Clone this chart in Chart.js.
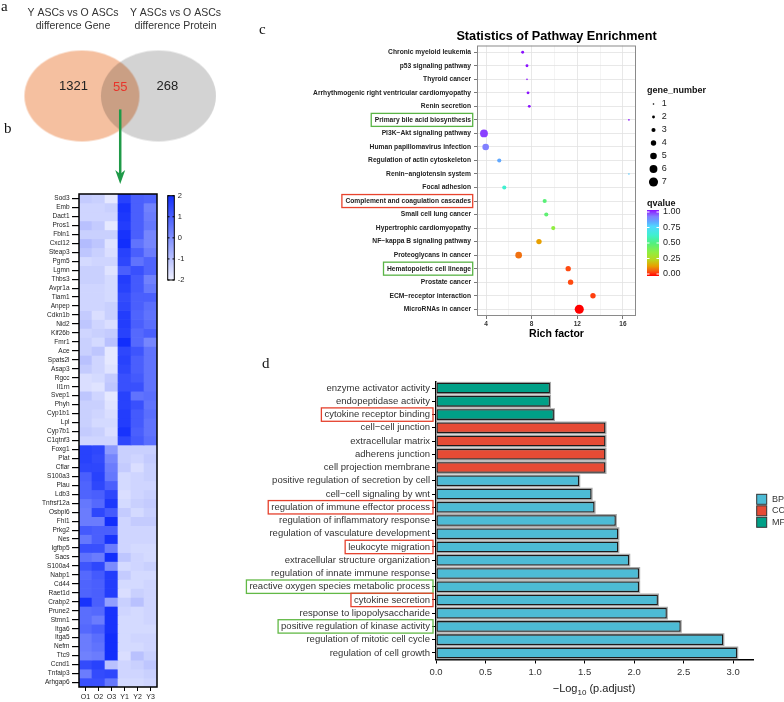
<!DOCTYPE html>
<html><head><meta charset="utf-8">
<script src="https://cdn.jsdelivr.net/npm/chart.js@4.4.1/dist/chart.umd.min.js"></script>
<style>
html,body{margin:0;padding:0;background:#fff;}
body{width:784px;height:702px;position:relative;overflow:hidden;}
canvas{position:absolute;display:block;}
.pl{position:absolute;font-family:"Liberation Serif","Times New Roman",serif;font-size:15px;line-height:15px;color:#111;}
</style></head><body>
<canvas id="venn" width="262" height="192" style="left:0;top:0"></canvas>
<canvas id="heat" width="200" height="517" style="left:0;top:185px"></canvas>
<canvas id="kegg" width="522" height="345" style="left:262px;top:0"></canvas>
<canvas id="go" width="544" height="332" style="left:240px;top:370px"></canvas>
<div class="pl" style="left:1px;top:-1.5px">a</div>
<div class="pl" style="left:4px;top:121px">b</div>
<div class="pl" style="left:259px;top:21.5px">c</div>
<div class="pl" style="left:262px;top:356px">d</div>
<script>
// ---------------- DATA ----------------
const vennTitles = [["Y ASCs vs O ASCs", "difference Gene"], ["Y ASCs vs O ASCs", "difference Protein"]];
const vennCounts = [1321, 55, 268]; // gene only, overlap, protein only

const heatSamples = ["O1","O2","O3","Y1","Y2","Y3"];
const heatGenes = ["Sod3","Emb","Dact1","Pros1","Fbln1","Cxcl12","Steap3","Pgm5","Lgmn","Thbs3","Avpr1a","Tiam1","Anpep","Cdkn1b","Nid2","Kif26b","Fmr1","Ace","Spats2l","Asap3","Rgcc","Il1rn","Svep1","Phyh","Cyp1b1","Lpl","Cyp7b1","C1qtnf3",
 "Foxg1","Plat","Cflar","S100a3","Plau","Ldb3","Tnfrsf12a","Osbpl6","Fhl1","Prkg2","Nes","Igfbp5","Sacs","S100a4","Nabp1","Cd44","Raet1d","Crabp2","Prune2","Stmn1","Itga6","Itga5","Nefm","Ttc9","Ccnd1","Tnfaip3","Arhgap6"];
const heatValues = [
 [-1.2,-1.3,-1.8,1.6,1.0,0.9],[-1.4,-1.4,-1.3,1.9,1.0,0.3],[-1.4,-1.4,-1.4,1.8,1.0,0.4],[-1.0,-1.2,-1.8,1.7,1.0,0.5],
 [-1.3,-1.3,-1.3,1.9,1.0,0.2],[-0.9,-1.1,-1.7,2.0,0.6,0.2],[-1.1,-1.3,-1.6,1.6,1.0,0.4],[-1.5,-1.4,-1.4,1.5,0.6,0.9],
 [-1.3,-1.3,-1.7,1.0,1.3,0.9],[-1.3,-1.3,-1.5,1.7,1.1,0.3],[-1.4,-1.4,-1.5,1.6,1.1,0.5],[-1.4,-1.4,-1.5,1.4,1.0,1.0],
 [-1.4,-1.4,-1.3,1.5,1.0,0.7],[-1.2,-1.6,-1.3,1.7,0.9,0.6],[-1.1,-1.4,-1.6,1.7,1.0,0.7],[-1.4,-1.3,-1.2,1.6,0.8,1.0],
 [-1.3,-1.5,-1.0,2.1,0.8,0.2],[-1.3,-1.1,-1.8,1.5,1.2,0.6],[-1.0,-1.4,-1.8,1.6,1.0,0.6],[-1.2,-1.4,-1.7,1.5,1.0,0.6],
 [-1.6,-1.5,-1.2,1.3,1.1,0.6],[-1.6,-1.7,-1.1,1.3,1.3,0.6],[-1.1,-1.4,-1.8,1.6,0.6,0.7],[-1.3,-1.3,-1.7,1.6,1.3,0.6],
 [-1.3,-1.4,-1.6,1.7,1.1,0.7],[-1.3,-1.5,-1.5,1.7,1.1,0.6],[-1.2,-1.3,-1.6,1.9,1.0,0.6],[-1.4,-1.4,-1.4,1.5,1.1,0.7],
 [1.6,1.5,-0.2,-1.3,-1.3,-1.3],[1.6,1.4,0.2,-1.3,-1.4,-1.2],[1.5,1.5,0.4,-1.2,-1.6,-1.3],[1.0,1.6,0.5,-1.5,-1.4,-1.3],
 [0.9,1.5,1.0,-1.5,-1.4,-1.4],[0.9,1.0,1.5,-1.6,-1.4,-1.3],[0.5,0.8,1.8,-1.5,-1.3,-1.2],[0.4,1.5,1.1,-1.2,-1.5,-1.3],
 [0.4,0.4,2.0,-1.4,-1.2,-1.2],[1.1,1.0,1.0,-1.4,-1.4,-1.4],[0.5,1.0,1.9,-1.4,-1.4,-1.4],[1.3,1.3,0.4,-1.4,-1.5,-1.5],
 [0.6,0.4,2.0,-1.1,-1.4,-1.5],[1.2,1.5,0.1,-1.5,-1.4,-1.3],[0.8,1.1,1.7,-1.2,-1.5,-1.5],[0.9,1.0,1.7,-1.5,-1.5,-1.4],
 [0.9,1.0,1.7,-1.6,-1.3,-1.4],[1.9,1.0,-0.3,-1.3,-1.0,-1.4],[0.7,0.8,1.9,-1.4,-1.5,-1.4],[0.7,0.4,1.9,-1.5,-1.5,-1.4],
 [0.8,1.0,1.9,-1.5,-1.5,-1.5],[0.4,0.7,2.1,-1.5,-1.4,-1.4],[0.4,0.6,2.0,-1.5,-1.5,-1.4],[0.3,0.4,2.1,-1.6,-1.0,-1.3],
 [1.4,1.6,-1.0,-1.4,-1.3,-1.1],[0.4,1.4,1.5,-1.4,-1.4,-1.3],[1.3,1.3,0.5,-1.5,-1.5,-1.4]
];
const heatLegendTicks = [2, 1, 0, -1, -2];

const keggTitle = "Statistics of Pathway Enrichment";
const keggXTitle = "Rich factor";
const keggPathways = ["Chronic myeloid leukemia","p53 signaling pathway","Thyroid cancer","Arrhythmogenic right ventricular cardiomyopathy","Renin secretion","Primary bile acid biosynthesis","PI3K\u2212Akt signaling pathway","Human papillomavirus infection","Regulation of actin cytoskeleton","Renin\u2212angiotensin system","Focal adhesion","Complement and coagulation cascades","Small cell lung cancer","Hypertrophic cardiomyopathy","NF\u2212kappa B signaling pathway","Proteoglycans in cancer","Hematopoietic cell lineage","Prostate cancer","ECM\u2212receptor interaction","MicroRNAs in cancer"];
const keggRichFactor = [7.21,7.59,7.59,7.68,7.79,16.52,3.82,3.97,5.16,16.52,5.60,9.14,9.28,9.89,8.64,6.86,11.20,11.41,13.37,12.17];
const keggGeneNumber = [2,2,1,2,2,1,6,5,3,1,3,3,3,3,4,5,4,4,4,7];
const keggQvalue = [1.0,1.0,1.0,1.0,1.0,1.0,0.96,0.90,0.82,0.77,0.62,0.48,0.47,0.36,0.15,0.10,0.06,0.06,0.05,0.0];
const keggXTicks = [4, 8, 12, 16];
const keggSizeLegend = [1,2,3,4,5,6,7];
const keggQLegend = [1.00, 0.75, 0.50, 0.25, 0.00];
const keggRedBox = ["Complement and coagulation cascades"];
const keggGreenBox = ["Primary bile acid biosynthesis","Hematopoietic cell lineage"];

const goTerms = ["enzyme activator activity","endopeptidase activity","cytokine receptor binding","cell\u2212cell junction","extracellular matrix","adherens junction","cell projection membrane","positive regulation of secretion by cell","cell\u2212cell signaling by wnt","regulation of immune effector process","regulation of inflammatory response","regulation of vasculature development","leukocyte migration","extracellular structure organization","regulation of innate immune response","reactive oxygen species metabolic process","cytokine secretion","response to lipopolysaccharide","positive regulation of kinase activity","regulation of mitotic cell cycle","regulation of cell growth"];
const goLog10Padj = [1.15,1.15,1.19,1.71,1.71,1.71,1.71,1.445,1.57,1.60,1.815,1.84,1.84,1.95,2.05,2.05,2.24,2.33,2.47,2.90,3.04];
const goCategory = ["MF","MF","MF","CC","CC","CC","CC","BP","BP","BP","BP","BP","BP","BP","BP","BP","BP","BP","BP","BP","BP"];
const goClasses = ["BP","CC","MF"];
const goRedBox = ["cytokine receptor binding","regulation of immune effector process","leukocyte migration","cytokine secretion"];
const goGreenBox = ["reactive oxygen species metabolic process","positive regulation of kinase activity"];

// ---------------- STYLE HELPERS ----------------
const FONT = '"Liberation Sans", Arial, Helvetica, sans-serif';
Chart.defaults.font.family = FONT;
Chart.defaults.animation = false;

function heatColor(v){
  const t = Math.max(0, Math.min(1, (v + 2) / 4));
  return `rgb(${Math.round(240 - 222*t)},${Math.round(242 - 196*t)},${Math.round(255 - 3*t)})`;
}
const qStops = [[0,[255,0,0]],[0.06,[255,74,16]],[0.1,[240,112,16]],[0.15,[232,160,0]],[0.25,[184,216,32]],[0.36,[144,238,64]],[0.5,[80,240,128]],[0.62,[64,240,208]],[0.75,[80,216,255]],[0.82,[96,168,255]],[0.9,[128,128,255]],[0.96,[138,64,255]],[1,[138,16,255]]];
function qColor(q){
  for (let k = 1; k < qStops.length; k++){
    if (q <= qStops[k][0]){
      const [q0,c0] = qStops[k-1], [q1,c1] = qStops[k];
      const f = (q - q0) / (q1 - q0);
      return `rgb(${c0.map((c,j)=>Math.round(c + (c1[j]-c)*f)).join(',')})`;
    }
  }
  return 'rgb(138,16,255)';
}
function bubbleR(n){ return 0.2 + 0.62 * n; }
const goColors = {BP:'#4DBBD5', CC:'#E64B35', MF:'#00A087'};

// ---------------- VENN ----------------
function ellipseImg(w, h, fill){
  const c = document.createElement('canvas'); c.width = w + 2; c.height = h + 2;
  const x = c.getContext('2d');
  x.beginPath(); x.ellipse(c.width/2, c.height/2, w/2, h/2, 0, 0, Math.PI*2);
  x.fillStyle = fill; x.fill();
  return c;
}
const vennImgs = [ellipseImg(115, 91, 'rgb(245,192,160)'), ellipseImg(115, 91, 'rgb(211,211,211)')];
const vennDecor = {
  id:'vennDecor',
  beforeDatasetsDraw(chart){ chart.ctx.save(); chart.ctx.globalCompositeOperation = 'multiply'; },
  afterDatasetsDraw(chart){
    const ctx = chart.ctx; ctx.restore();
    const pts = chart.getDatasetMeta(0).data;
    const p0 = pts[0], p1 = pts[1];
    ctx.save();
    ctx.textAlign = 'center'; ctx.textBaseline = 'middle';
    ctx.font = '10.5px ' + FONT; ctx.fillStyle = '#333';
    const tx = [p0.x - 9, p1.x + 17];
    vennTitles.forEach((t, i) => { ctx.fillText(t[0], tx[i], p0.y - 83.3); ctx.fillText(t[1], tx[i], p0.y - 70); });
    ctx.font = '13px ' + FONT;
    ctx.fillStyle = '#222'; ctx.fillText(String(vennCounts[0]), p0.x - 8.5, p0.y - 10);
    ctx.fillStyle = '#e8352b'; ctx.fillText(String(vennCounts[1]), (p0.x + p1.x)/2, p0.y - 8.3);
    ctx.fillStyle = '#222'; ctx.fillText(String(vennCounts[2]), p1.x + 9, p0.y - 10);
    // arrow
    const mx = (p0.x + p1.x)/2;
    ctx.strokeStyle = '#1f9a48'; ctx.fillStyle = '#1f9a48'; ctx.lineWidth = 2.5;
    ctx.beginPath(); ctx.moveTo(mx, p0.y + 13.4); ctx.lineTo(mx, 176); ctx.stroke();
    ctx.beginPath(); ctx.moveTo(mx - 5, 170); ctx.lineTo(mx, 184); ctx.lineTo(mx + 5, 170); ctx.lineTo(mx, 174); ctx.closePath(); ctx.fill();
    ctx.restore();
  }
};
new Chart(document.getElementById('venn'), {
  type:'scatter',
  data:{datasets:[{data: vennTitles.map((t,i)=>({x:i, y:0})), pointStyle: vennImgs, pointRadius:10, clip:false}]},
  options:{responsive:false, events:[], layout:{padding:{top:0,bottom:5.4,left:0,right:0}},
    plugins:{legend:{display:false}, tooltip:{enabled:false}},
    scales:{x:{display:false, min:-0.928, max:2.210}, y:{display:false, min:-1, max:1}}},
  plugins:[vennDecor]
});

// ---------------- HEATMAP ----------------
const heatDecor = {
  id:'heatDecor',
  afterDraw(chart){
    const {ctx, chartArea:a} = chart;
    ctx.save();
    ctx.strokeStyle = '#000'; ctx.lineWidth = 1.5; ctx.strokeRect(a.left, a.top, a.width, a.height);
    const bx = a.right + 10.7, bw = 6.6, by = a.top + 1.7, bh = 84.3;
    const g = ctx.createLinearGradient(0, by, 0, by + bh);
    for (let k = 0; k <= 20; k++){ g.addColorStop(k/20, heatColor(2 - 4*k/20)); }
    ctx.fillStyle = g; ctx.fillRect(bx, by, bw, bh);
    ctx.strokeStyle = '#000'; ctx.lineWidth = 1; ctx.strokeRect(bx, by, bw, bh);
    ctx.fillStyle = '#222'; ctx.font = '7.5px ' + FONT; ctx.textAlign = 'left'; ctx.textBaseline = 'middle';
    heatLegendTicks.forEach(v => {
      const yy = by + (2 - v)/4*bh;
      ctx.fillText(String(v), bx + bw + 3.5, yy);
      ctx.beginPath(); ctx.moveTo(bx, yy); ctx.lineTo(bx + 1.8, yy); ctx.moveTo(bx + bw - 1.8, yy); ctx.lineTo(bx + bw, yy); ctx.stroke();
    });
    ctx.restore();
  }
};
new Chart(document.getElementById('heat'), {
  type:'bar',
  data:{labels: heatSamples, datasets: heatGenes.map((g,i)=>({label:g, data: heatSamples.map(()=>1), backgroundColor: heatValues[i].map(heatColor), borderWidth:0, barPercentage:1, categoryPercentage:1}))},
  options:{responsive:false, events:[], layout:{padding:{top:9, right:43, bottom:0, left:0}},
    plugins:{legend:{display:false}, tooltip:{enabled:false}},
    scales:{
      x:{stacked:true, offset:true, ticks:{font:{size:7}, color:'#222', padding:2, maxRotation:0},
         grid:{drawOnChartArea:false, offset:false, tickLength:4, color:'#000', lineWidth:1}, border:{display:false},
         afterFit: s => { s.height = 15; }},
      y:{stacked:true, reverse:true, min:0, max:heatGenes.length,
         afterBuildTicks: ax => { ax.ticks = heatGenes.map((g,i)=>({value:i+0.5})); },
         ticks:{autoSkip:false, callback:(v,i)=>heatGenes[i], font:{size:6.5}, color:'#222', padding:2.5},
         grid:{drawOnChartArea:false, tickLength:7, color:'#000', lineWidth:1.2}, border:{display:false},
         afterFit: s => { s.width = 79; }}
    }},
  plugins:[heatDecor]
});

// ---------------- KEGG BUBBLE ----------------
const keggDecor = {
  id:'keggDecor',
  afterDraw(chart){
    const {ctx, chartArea:a, scales:{y}} = chart;
    ctx.save();
    ctx.strokeStyle = '#8a8a8a'; ctx.lineWidth = 1; ctx.strokeRect(a.left + 0.5, a.top + 0.5, a.width - 1, a.height - 1);
    ctx.fillStyle = '#000'; ctx.textAlign = 'center'; ctx.textBaseline = 'middle';
    ctx.font = 'bold 12.7px ' + FONT; ctx.fillText(keggTitle, (a.left + a.right)/2, a.top - 9.5);
    ctx.font = 'bold 10.5px ' + FONT; ctx.fillText(keggXTitle, (a.left + a.right)/2, a.bottom + 18);
    // label boxes
    ctx.font = 'bold 6.7px ' + FONT;
    keggPathways.forEach((p, i) => {
      const col = keggRedBox.includes(p) ? '#e8432d' : (keggGreenBox.includes(p) ? '#5ab446' : null);
      if (!col) return;
      const py = y.getPixelForValue(i); const w = ctx.measureText(p).width;
      const xr = a.left - 4.3, xl = a.left - 6 - w - 3.5;
      ctx.strokeStyle = col; ctx.lineWidth = 1.3; ctx.strokeRect(xl, py - 6.5, xr - xl, 13);
    });
    // size legend
    ctx.textAlign = 'left'; ctx.fillStyle = '#111';
    ctx.font = 'bold 9px ' + FONT; ctx.fillText('gene_number', a.right + 11, 91);
    ctx.font = '9px ' + FONT;
    keggSizeLegend.forEach((n, k) => {
      const yy = 104 + 13*k;
      ctx.fillStyle = '#000'; ctx.beginPath(); ctx.arc(a.right + 17.5, yy, bubbleR(n), 0, Math.PI*2); ctx.fill();
      ctx.fillStyle = '#222'; ctx.fillText(String(n), a.right + 25.7, yy);
    });
    // q colorbar
    ctx.fillStyle = '#111'; ctx.font = 'bold 9px ' + FONT; ctx.fillText('qvalue', a.right + 11, 204);
    const bx = a.right + 11, bw = 12, top = 210, bot = 276;
    const g = ctx.createLinearGradient(0, top, 0, bot);
    for (let k = 0; k <= 40; k++){ g.addColorStop(k/40, qColor(1 - k/40)); }
    ctx.fillStyle = g; ctx.fillRect(bx, top, bw, bot - top);
    ctx.font = '9px ' + FONT; ctx.fillStyle = '#222';
    keggQLegend.forEach(q => {
      const yy = 274 - q*62;
      ctx.fillText(q.toFixed(2), a.right + 27, yy);
      ctx.strokeStyle = '#fff'; ctx.lineWidth = 1;
      ctx.beginPath(); ctx.moveTo(bx, yy); ctx.lineTo(bx + 2.5, yy); ctx.moveTo(bx + bw - 2.5, yy); ctx.lineTo(bx + bw, yy); ctx.stroke();
    });
    ctx.restore();
  }
};
const isMajor = c => c.tick && keggXTicks.includes(c.tick.value);
new Chart(document.getElementById('kegg'), {
  type:'bubble',
  data:{datasets:[{data: keggPathways.map((p,i)=>({x:keggRichFactor[i], y:p, r:bubbleR(keggGeneNumber[i])})), backgroundColor: keggQvalue.map(qColor), borderWidth:0}]},
  options:{responsive:false, events:[], layout:{padding:{top:45.5, right:148, bottom:0, left:0}},
    plugins:{legend:{display:false}, tooltip:{enabled:false}},
    scales:{
      x:{type:'linear', min:3.21, max:17.14,
         afterBuildTicks: ax => { ax.ticks = [4,6,8,10,12,14,16].map(v=>({value:v})); },
         ticks:{callback: v => keggXTicks.includes(v) ? String(v) : '', font:{size:6.5, weight:'bold'}, color:'#333', padding:1.5, maxRotation:0},
         grid:{color: c => isMajor(c) ? '#e2e2e2' : '#f1f1f1', tickColor: c => isMajor(c) ? '#555' : 'rgba(0,0,0,0)', tickLength:3, lineWidth:0.8},
         border:{display:false}, afterFit: s => { s.height = 29; }},
      y:{type:'category', labels: keggPathways, offset:true,
         ticks:{font:{size:6.7, weight:'bold'}, color:'#222', padding:3, autoSkip:false},
         grid:{offset:false, color:'#e2e2e2', tickColor:'#555', tickLength:3, lineWidth:0.8},
         border:{display:false}, afterFit: s => { s.width = 215; }}
    }},
  plugins:[keggDecor]
});

// ---------------- GO BARS ----------------
const goDecor = {
  id:'goDecor',
  afterDraw(chart){
    const {ctx, chartArea:a, scales:{y}} = chart;
    ctx.save();
    ctx.font = '9.5px ' + FONT;
    goTerms.forEach((t, i) => {
      const col = goRedBox.includes(t) ? '#e5412d' : (goGreenBox.includes(t) ? '#62b946' : null);
      if (!col) return;
      const py = y.getPixelForValue(i); const w = ctx.measureText(t).width;
      const xr = a.left - 6 + 3, xl = a.left - 6 - w - 3;
      ctx.strokeStyle = col; ctx.lineWidth = 1.3; ctx.strokeRect(xl, py - 6.7, xr - xl, 13.4);
    });
    const cx = (a.left + a.right)/2 - 0.5, by = a.bottom + 32.5;
    const s1 = '\u2212Log', s2 = '10', s3 = ' (p.adjust)';
    ctx.font = '11px ' + FONT; const w1 = ctx.measureText(s1).width, w3 = ctx.measureText(s3).width;
    ctx.font = '8px ' + FONT; const w2 = ctx.measureText(s2).width;
    let x0 = cx - (w1 + w2 + w3)/2;
    ctx.fillStyle = '#222'; ctx.textBaseline = 'alphabetic'; ctx.textAlign = 'left';
    ctx.font = '11px ' + FONT; ctx.fillText(s1, x0, by);
    ctx.font = '8px ' + FONT; ctx.fillText(s2, x0 + w1, by + 3);
    ctx.font = '11px ' + FONT; ctx.fillText(s3, x0 + w1 + w2, by);
    ctx.textBaseline = 'middle'; ctx.font = '9px ' + FONT;
    goClasses.forEach((c, k) => {
      const yy = a.top + 117.8 + 11.5*k;
      ctx.fillStyle = goColors[c]; ctx.fillRect(a.right + 3.7, yy - 5, 10, 10);
      ctx.strokeStyle = '#333'; ctx.lineWidth = 1; ctx.strokeRect(a.right + 3.7, yy - 5, 10, 10);
      ctx.fillStyle = '#333'; ctx.fillText(c, a.right + 19, yy);
    });
    ctx.restore();
  }
};
new Chart(document.getElementById('go'), {
  type:'bar',
  data:{labels: goTerms, datasets: [
    ...goClasses.map(c => ({label:c, data: goLog10Padj.map((v,i)=> goCategory[i] === c ? v : null), backgroundColor: goColors[c], borderColor:'#1c1c1c', borderWidth:1.3, borderSkipped:false, barPercentage:0.8, categoryPercentage:1, grouped:false, order:1})),
    {label:'shadow', data: goLog10Padj, backgroundColor:'#a9a9a9', borderWidth:0, barPercentage:0.8, categoryPercentage:1, inflateAmount:1.1, grouped:false, order:2}
  ]},
  options:{indexAxis:'y', responsive:false, events:[], layout:{padding:{top:11.5, right:31, bottom:0, left:0}},
    plugins:{legend:{display:false}, tooltip:{enabled:false}},
    scales:{
      x:{min:0, max:3.2, ticks:{stepSize:0.5, includeBounds:false, callback: v => Number(v).toFixed(1), font:{size:9.5}, color:'#333', padding:3, maxRotation:0},
         grid:{drawOnChartArea:false, tickLength:4, color:'#000', lineWidth:1}, border:{display:true, color:'#000', width:1.5},
         afterFit: s => { s.height = 42.5; }},
      y:{ticks:{font:{size:9.5}, color:'#333', padding:2, autoSkip:false},
         grid:{drawOnChartArea:false, offset:false, tickLength:4, color:'#000', lineWidth:1}, border:{display:true, color:'#000', width:1.5},
         afterFit: s => { s.width = 196; }}
    }},
  plugins:[goDecor]
});
</script>
</body></html>
